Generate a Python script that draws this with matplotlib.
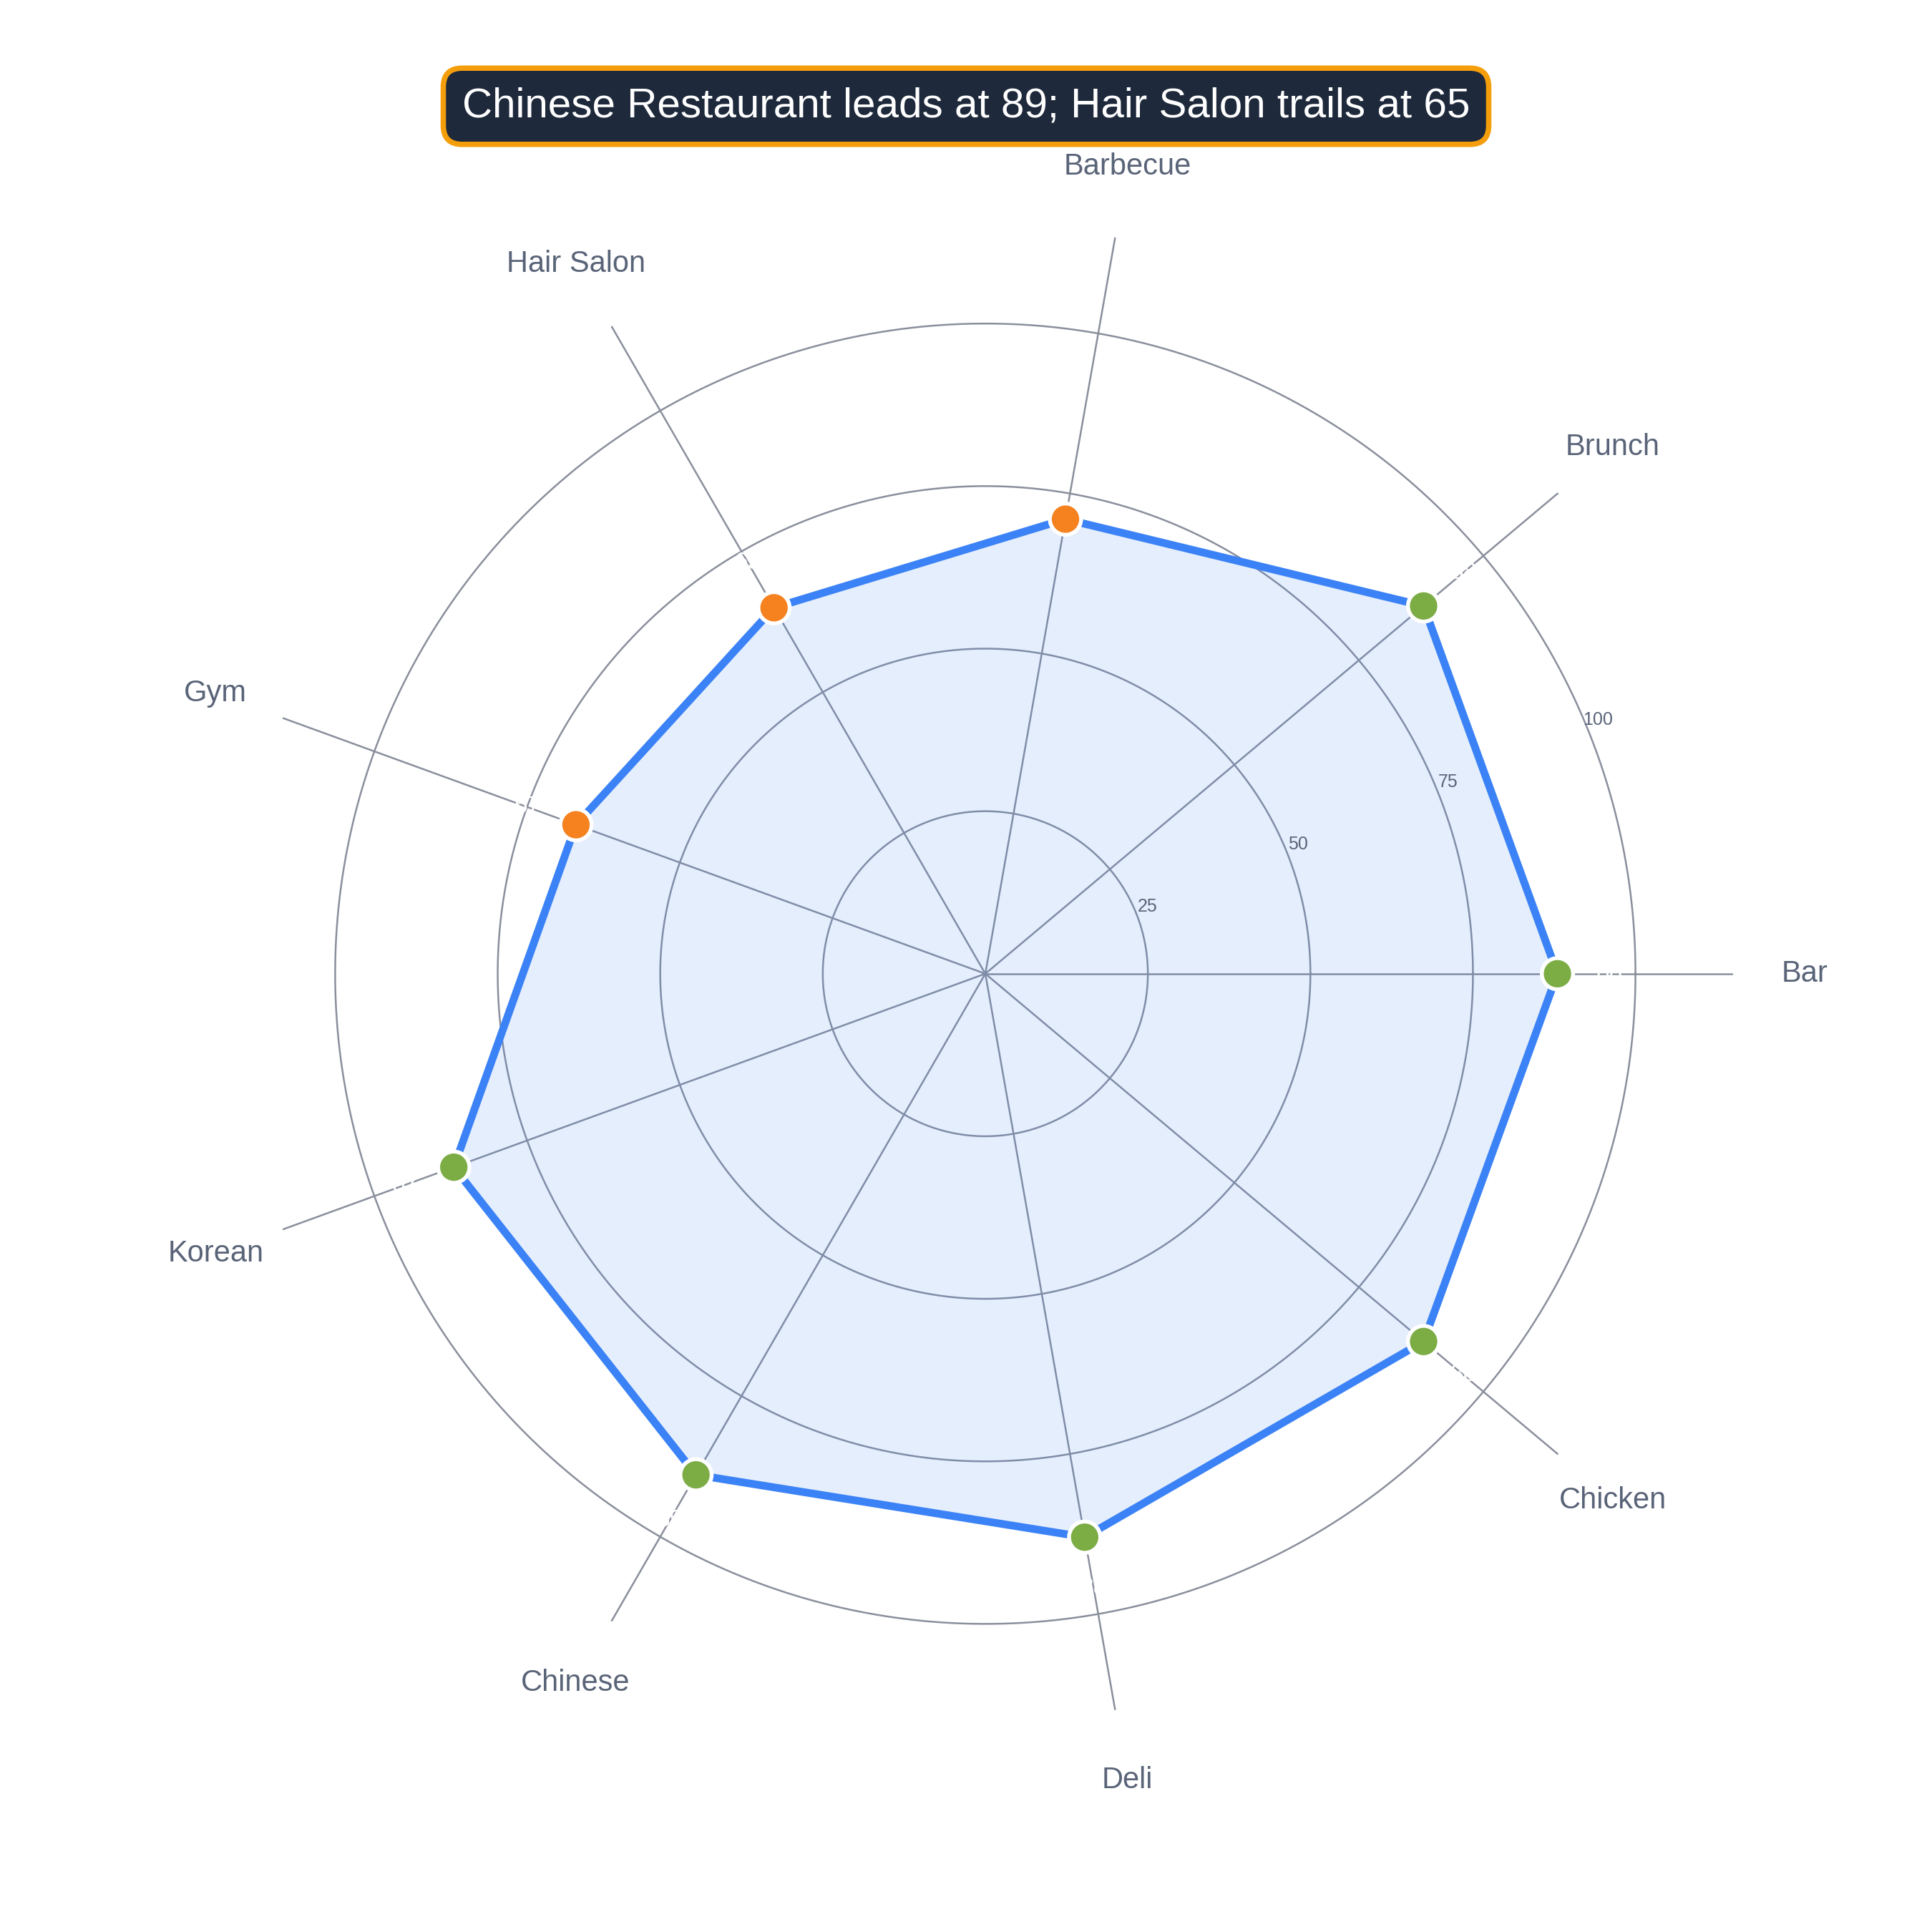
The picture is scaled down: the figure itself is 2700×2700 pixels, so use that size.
import numpy as np
import matplotlib
matplotlib.use("Agg")
import matplotlib.pyplot as plt

categories = ["Bar", "Brunch", "Barbecue", "Hair Salon", "Gym", "Korean", "Chinese", "Deli", "Chicken"]
values = [88, 88, 71, 65, 67, 87, 89, 88, 88]
rings = [25, 50, 75, 100]
title = "Chinese Restaurant leads at 89; Hair Salon trails at 65"

plt.rcParams['font.family'] = ['Liberation Sans', 'DejaVu Sans']
fig = plt.figure(figsize=(9, 9), dpi=300)
cx, cy, R = 0.51, 0.496, 0.387
ax = fig.add_axes([cx - R, cy - R, 2 * R, 2 * R], projection='polar')
ax.set_ylim(0, 115)
ax.axis('off')

n = len(categories)
theta = np.deg2rad(np.arange(n) * 360 / n)
full = np.linspace(0, 2 * np.pi, 400)
for r in rings:
    ax.plot(full, np.full_like(full, r), color='#8a8f9c', lw=0.6, zorder=1)
    ax.text(np.deg2rad(22.5), r + 2, str(r), fontsize=6, color='#5a6478', ha='center', va='center')
for t in theta:
    ax.plot([t, t], [0, 115], color='#8a8f9c', lw=0.6, zorder=1)

tc = np.append(theta, theta[0])
vc = np.append(values, values[0])
ax.fill(tc, vc, color='#3b82f6', alpha=0.13, zorder=2)
ax.plot(tc, vc, color='#3b82f6', lw=2.6, zorder=3)
colors = ['#f5821f' if v < 75 else '#7cac44' for v in values]
ax.scatter(theta, values, s=110, c=colors, edgecolors='white', linewidths=1.3, zorder=4)
for t, v, c in zip(theta, values, categories):
    ax.text(t, v + 8, str(v), color='white', fontsize=8, ha='center', va='center', zorder=5)
    ax.text(t, 126, c, color='#5a6478', fontsize=10, ha='center', va='center')

fig.text(0.5, 0.945, title, fontsize=14, color='white', ha='center', va='center',
         bbox=dict(boxstyle='round,pad=0.45', fc='#1e293b', ec='#f59e0b', lw=1.8))
fig.savefig("out.png", dpi=300, facecolor='white')
